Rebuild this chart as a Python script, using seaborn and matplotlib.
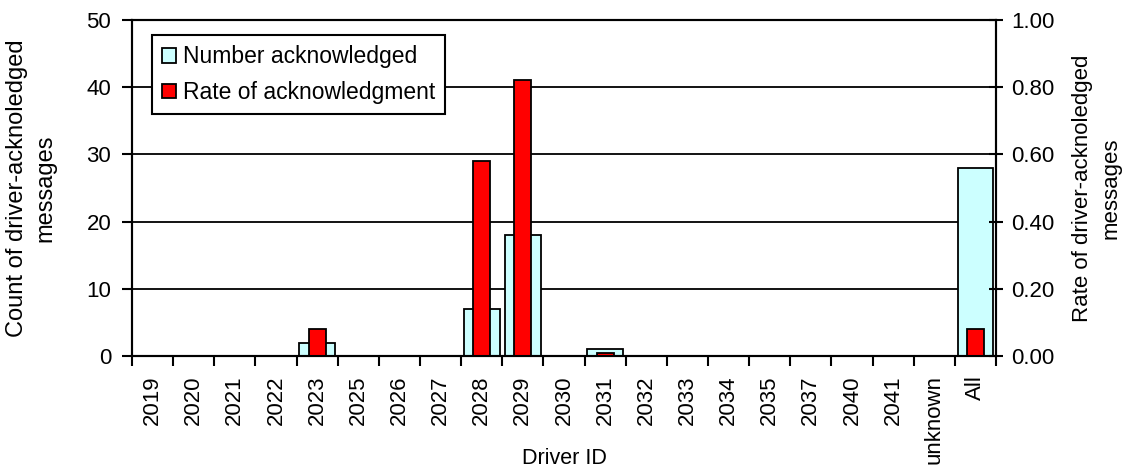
import matplotlib
matplotlib.use("Agg")
import matplotlib.pyplot as plt
from matplotlib.patches import Patch
import numpy as np
import pandas as pd
import seaborn as sns

# Driver IDs on the x axis
drivers = ["2019", "2020", "2021", "2022", "2023", "2025", "2026", "2027",
           "2028", "2029", "2030", "2031", "2032", "2033", "2034", "2035",
           "2037", "2040", "2041", "unknown", "All"]
# Count of messages acknowledged by each driver (left axis)
acknowledged = [0, 0, 0, 0, 2, 0, 0, 0, 7, 18, 0, 1, 0, 0, 0, 0, 0, 0, 0, 0, 28]
# Share of messages acknowledged (right axis)
ack_rate = [0, 0, 0, 0, 0.08, 0, 0, 0, 0.58, 0.82, 0, 0.01, 0, 0, 0, 0,
            0, 0, 0, 0, 0.08]

count_ticks = [0, 10, 20, 30, 40, 50]
rate_ticks = [0.0, 0.2, 0.4, 0.6, 0.8, 1.0]

LIGHT = "#CCFFFF"
RED = "#FF0000"
FS = 16

sns.set_theme(style="white")
plt.rcParams["font.family"] = ["Liberation Sans", "DejaVu Sans"]
plt.rcParams.update({"text.color": "black", "axes.labelcolor": "black",
                     "xtick.color": "black", "ytick.color": "black"})

df = pd.DataFrame({"driver": drivers, "count": acknowledged, "rate": ack_rate})

W, H = 1124, 471
fig = plt.figure(figsize=(W / 100, H / 100), dpi=100)
ax = fig.add_axes([132 / W, 115 / H, 864 / W, 336 / H])
ax2 = ax.twinx()

sns.barplot(data=df, x="driver", y="count", order=drivers, color=LIGHT,
            saturation=1, edgecolor="black", linewidth=1.3, width=0.87,
            errorbar=None, ax=ax, zorder=2)
sns.barplot(data=df, x="driver", y="rate", order=drivers, color=RED,
            saturation=1, edgecolor="black", linewidth=1.3, width=0.42,
            errorbar=None, ax=ax2, zorder=2)

# Left axis: counts with horizontal gridlines
ax.set_ylim(0, 50)
ax.set_yticks(count_ticks)
ax.set_yticklabels([str(t) for t in count_ticks], fontsize=FS)
ax.yaxis.grid(True, color="black", linewidth=1.3)
ax.set_axisbelow(True)
ax.tick_params(axis="y", left=True, direction="out", length=7, width=1.5,
               color="black", pad=8)

# Right axis: rates
ax2.set_ylim(0, 1.0)
ax2.set_yticks(rate_ticks)
ax2.set_yticklabels([f"{t:.2f}" for t in rate_ticks], fontsize=FS)
ax2.tick_params(axis="y", right=True, direction="inout", length=10, width=1.5,
                color="black", pad=6)

# Category axis: labels at centres, tick marks between categories
ax.set_xlim(-0.5, len(drivers) - 0.5)
ax.set_xticks(range(len(drivers)))
ax.set_xticklabels(drivers, rotation=90, fontsize=FS)
ax.set_xticks(np.arange(-0.5, len(drivers), 1.0), minor=True)
ax.tick_params(axis="x", which="major", bottom=True, length=0, pad=14)
ax.tick_params(axis="x", which="minor", bottom=True, direction="out",
               length=7, width=1.5, color="black")

for a in (ax, ax2):
    for s in a.spines.values():
        s.set_color("black")
        s.set_linewidth(1.5)

ax.set_xlabel("Driver ID", fontsize=15.5)
ax.xaxis.set_label_coords(0.5, -0.275)
ax.set_ylabel("Count of driver-acknoledged\nmessages", fontsize=17,
              linespacing=1.35)
ax.yaxis.set_label_coords(-0.088, 0.5)
ax2.set_ylabel("Rate of driver-acknoledged\nmessages", fontsize=16,
               linespacing=1.5)
ax2.yaxis.set_label_coords(1.088, 0.5)

handles = [
    Patch(facecolor=LIGHT, edgecolor="black", linewidth=1.3,
          label="Number acknowledged"),
    Patch(facecolor=RED, edgecolor="black", linewidth=1.3,
          label="Rate of acknowledgment"),
]
leg = ax2.legend(handles=handles, loc="upper left",
                 bbox_to_anchor=(0.023, 0.955), frameon=True, fancybox=False,
                 edgecolor="black", framealpha=1, fontsize=16.5,
                 handlelength=0.6, handleheight=0.6, handletextpad=0.3,
                 borderpad=0.45, labelspacing=0.55, borderaxespad=0)
leg.get_frame().set_linewidth(1.5)

fig.savefig("out.png", dpi=100)
